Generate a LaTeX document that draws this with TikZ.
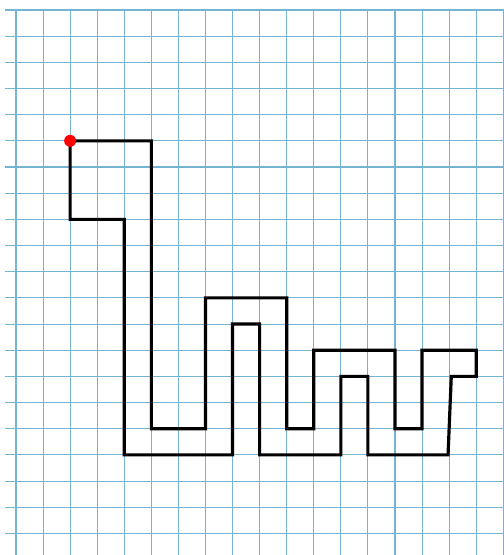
\documentclass[tikz,border=0pt]{standalone}
\usepackage{tikz}

\begin{document}
\begin{tikzpicture}[
		x=0.5414cm, y=-0.5234cm,
		gridline/.style={draw=gridblue, line width=0.6pt},
		walk/.style={draw=black, line width=1.8pt, line join=miter},
		startdot/.style={circle, fill=red, inner sep=0pt, minimum size=0.24cm}
		]
		\definecolor{gridblue}{HTML}{74B4D2}
		
		% Canvas
		\useasboundingbox (-0.591,-0.382) rectangle (18.027,20.825);
		\fill[white] (-0.591,-0.382) rectangle (18.027,20.825);
		
		% Squared paper
		\foreach \j in {0,...,20}
			\draw[gridline] (-0.41,\j) -- (18.027,\j);
		\foreach \i in {0,...,18}
			\draw[gridline] (\i,0) -- (\i,20.825);
		
		% Closed path
		\draw[walk] (2,5) -- (5,5) -- (5,16) -- (7,16) -- (7,11) -- (10,11) -- (10,16)
			-- (11,16) -- (11,13) -- (14,13) -- (14,16) -- (15,16) -- (15,13) -- (17,13)
			-- (17,14) -- (16.08,14) -- (15.96,17) -- (13,17) -- (13,14) -- (12,14)
			-- (12,17) -- (9,17) -- (9,12) -- (8,12) -- (8,17) -- (4,17) -- (4,8)
			-- (2,8) -- cycle;
		
		% Start point
		\node[startdot] (start) at (2,5) {};
		
	\end{tikzpicture}
\end{document}
